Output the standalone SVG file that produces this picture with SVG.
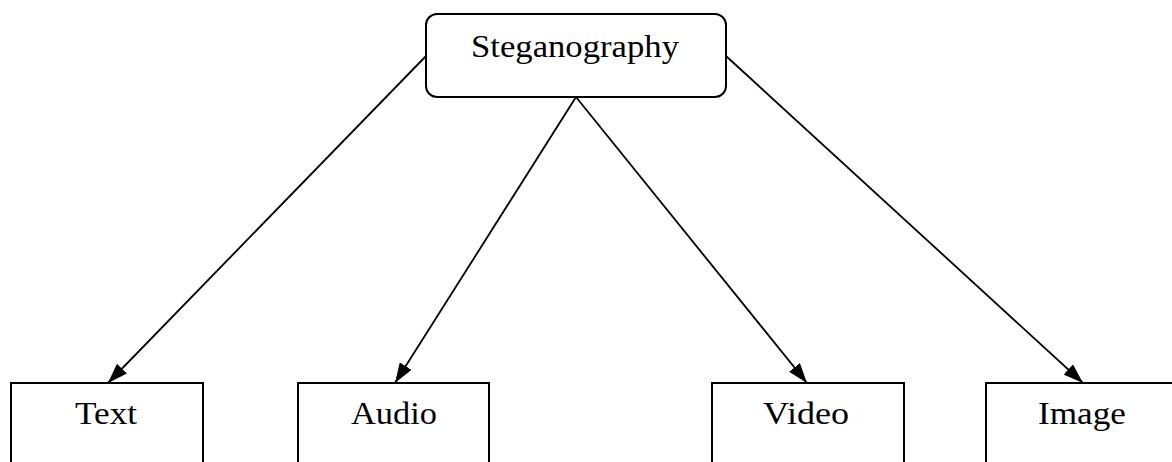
<svg xmlns="http://www.w3.org/2000/svg" width="1172" height="462" viewBox="0 0 1172 462">
<style>
.box{fill:#fff;stroke:#000;stroke-width:2}
.lbl{font-family:"Liberation Serif","Times New Roman",serif;font-size:31px;fill:#000;text-anchor:middle}
.conn{stroke:#000;stroke-width:1.8;fill:none;marker-end:url(#arr)}
</style>
<defs>
<marker id="arr" viewBox="0 0 20 14" refX="20" refY="7" markerWidth="20" markerHeight="14" markerUnits="userSpaceOnUse" orient="auto">
<path d="M0,0 L20,7 L0,14 Z" fill="#000"/>
</marker>
</defs>
<rect width="1172" height="462" fill="#fff"/>
<g id="connectors">
<line class="conn" x1="426" y1="56" x2="108" y2="383"/>
<line class="conn" x1="576" y1="97" x2="395" y2="383"/>
<line class="conn" x1="576" y1="97" x2="807" y2="383"/>
<line class="conn" x1="726" y1="56" x2="1083" y2="383"/>
</g>
<g id="steganography">
<rect class="box" x="426" y="14" width="300" height="83" rx="11" ry="11"/>
<text class="lbl" x="575" y="57" textLength="208" lengthAdjust="spacingAndGlyphs">Steganography</text>
</g>
<g id="text">
<rect class="box" x="11" y="383" width="192" height="100"/>
<text class="lbl" x="106" y="424" textLength="62" lengthAdjust="spacingAndGlyphs">Text</text>
</g>
<g id="audio">
<rect class="box" x="298" y="383" width="191" height="100"/>
<text class="lbl" x="394" y="424" textLength="86" lengthAdjust="spacingAndGlyphs">Audio</text>
</g>
<g id="video">
<rect class="box" x="712" y="383" width="192" height="100"/>
<text class="lbl" x="806" y="424" textLength="86" lengthAdjust="spacingAndGlyphs">Video</text>
</g>
<g id="image">
<rect class="box" x="986" y="383" width="192" height="100"/>
<text class="lbl" x="1082" y="424" textLength="88" lengthAdjust="spacingAndGlyphs">Image</text>
</g>
</svg>
